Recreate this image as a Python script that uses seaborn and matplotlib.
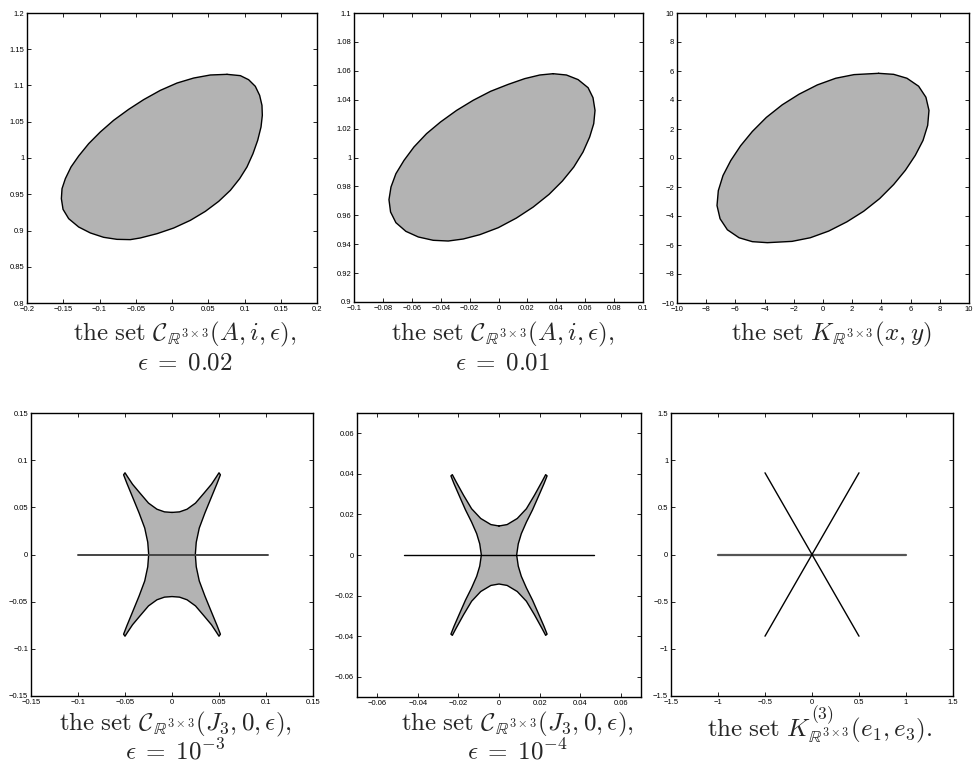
import numpy as np
import matplotlib.pyplot as plt
import seaborn as sns
from matplotlib.ticker import FuncFormatter

# boundary points
egg_x = [0.0759, 0.0943, 0.1057, 0.1149, 0.1209, 0.1241, 0.1246, 0.1228, 0.1182, 0.1117,
         0.1034, 0.0933, 0.0805, 0.0644, 0.0460, 0.0253, 0.0023, -0.0207, -0.0437, -0.0575,
         -0.0759, -0.0943, -0.1126, -0.1287, -0.1425, -0.1503, -0.1526, -0.1517, -0.1471, -0.1393,
         -0.1287, -0.1149, -0.0989, -0.0805, -0.0598, -0.0391, -0.0161, 0.0069, 0.0299, 0.0529,
         0.0759]
egg_y = [1.1154, 1.1136, 1.1080, 1.0989, 1.0864, 1.0726, 1.0589, 1.0428, 1.0244, 1.0060,
         0.9876, 0.9715, 0.9554, 0.9402, 0.9264, 0.9140, 0.9034, 0.8956, 0.8897, 0.8874,
         0.8878, 0.8906, 0.8966, 0.9048, 0.9163, 0.9292, 0.9439, 0.9577, 0.9715, 0.9876,
         1.0028, 1.0198, 1.0359, 1.0520, 1.0671, 1.0805, 1.0933, 1.1034, 1.1103, 1.1145,
         1.1154]

ell_x = [0.0378, 0.0470, 0.0551, 0.0620, 0.0654, 0.0668, 0.0659, 0.0631, 0.0585, 0.0521,
         0.0442, 0.0350, 0.0240, 0.0124, -0.0002, -0.0129, -0.0244, -0.0348, -0.0452, -0.0555,
         -0.0641, -0.0710, -0.0747, -0.0758, -0.0744, -0.0710, -0.0654, -0.0585, -0.0498, -0.0401,
         -0.0290, -0.0175, -0.0055, 0.0067, 0.0182, 0.0286, 0.0378]
ell_y = [1.0580, 1.0571, 1.0539, 1.0483, 1.0414, 1.0326, 1.0234, 1.0142, 1.0038, 0.9934,
         0.9837, 0.9745, 0.9657, 0.9581, 0.9514, 0.9466, 0.9436, 0.9422, 0.9427, 0.9450,
         0.9489, 0.9549, 0.9623, 0.9708, 0.9796, 0.9888, 0.9980, 1.0073, 1.0165, 1.0246,
         1.0326, 1.0396, 1.0458, 1.0506, 1.0546, 1.0571, 1.0580]

kxy_x = [3.81, 4.84, 5.75, 6.55, 7.05, 7.26, 7.17, 6.85, 6.32, 5.64, 4.84, 3.88, 2.79, 1.64,
         0.39, -0.87, -2.12, -3.81, -4.84, -5.75, -6.55, -7.05, -7.26, -7.17, -6.85, -6.32,
         -5.64, -4.84, -3.88, -2.79, -1.64, -0.39, 0.87, 2.12, 3.81]
kxy_y = [5.84, 5.77, 5.50, 4.95, 4.19, 3.28, 2.25, 1.21, 0.18, -0.85, -1.83, -2.80, -3.67, -4.40,
         -5.04, -5.50, -5.75, -5.84, -5.77, -5.50, -4.95, -4.19, -3.28, -2.25, -1.21, -0.18,
         0.85, 1.83, 2.80, 3.67, 4.40, 5.04, 5.50, 5.75, 5.84]

star3_x = [0, 0.008, 0.016, 0.025, 0.034, 0.042, 0.047, 0.0500, 0.0515, 0.048, 0.042, 0.035, 0.029, 0.0258, 0.0248,
           0.0258, 0.029, 0.035, 0.042, 0.048, 0.0515, 0.0500, 0.047, 0.042, 0.034, 0.025, 0.016, 0.008, 0,
           -0.008, -0.016, -0.025, -0.034, -0.042, -0.047, -0.0500, -0.0515, -0.048, -0.042, -0.035, -0.029, -0.0258, -0.0248,
           -0.0258, -0.029, -0.035, -0.042, -0.048, -0.0515, -0.0500, -0.047, -0.042, -0.034, -0.025, -0.016, -0.008, 0]
star3_y = [0.0446, 0.0452, 0.048, 0.0545, 0.065, 0.0745, 0.082, 0.0866, 0.0845, 0.0755, 0.061, 0.044, 0.028, 0.013, 0,
           -0.013, -0.028, -0.044, -0.061, -0.0755, -0.0845, -0.0866, -0.082, -0.0745, -0.065, -0.0545, -0.048, -0.0452, -0.0446,
           -0.0452, -0.048, -0.0545, -0.065, -0.0745, -0.082, -0.0866, -0.0845, -0.0755, -0.061, -0.044, -0.028, -0.013, 0,
           0.013, 0.028, 0.044, 0.061, 0.0755, 0.0845, 0.0866, 0.082, 0.0745, 0.065, 0.0545, 0.048, 0.0452, 0.0446]

star4_x = [0, 0.004, 0.009, 0.0135, 0.0175, 0.0212, 0.0230, 0.0237, 0.0222, 0.0195, 0.0165, 0.0135, 0.0110, 0.0095, 0.0087,
           0.0095, 0.0110, 0.0135, 0.0165, 0.0195, 0.0222, 0.0237, 0.0230, 0.0212, 0.0175, 0.0135, 0.009, 0.004, 0,
           -0.004, -0.009, -0.0135, -0.0175, -0.0212, -0.0230, -0.0237, -0.0222, -0.0195, -0.0165, -0.0135, -0.0110, -0.0095, -0.0087,
           -0.0095, -0.0110, -0.0135, -0.0165, -0.0195, -0.0222, -0.0237, -0.0230, -0.0212, -0.0175, -0.0135, -0.009, -0.004, 0]
star4_y = [0.0143, 0.015, 0.018, 0.0228, 0.0295, 0.0362, 0.0396, 0.0390, 0.0352, 0.029, 0.0222, 0.0162, 0.0105, 0.0055, 0,
           -0.0055, -0.0105, -0.0162, -0.0222, -0.029, -0.0352, -0.0390, -0.0396, -0.0362, -0.0295, -0.0228, -0.018, -0.015, -0.0143,
           -0.015, -0.018, -0.0228, -0.0295, -0.0362, -0.0396, -0.0390, -0.0352, -0.029, -0.0222, -0.0162, -0.0105, -0.0055, 0,
           0.0055, 0.0105, 0.0162, 0.0222, 0.029, 0.0352, 0.0390, 0.0396, 0.0362, 0.0295, 0.0228, 0.018, 0.015, 0.0143]

axis3_x = [-0.1, 0.102]
axis4_x = [-0.047, 0.047]
k3_segs = [([-1, 1], [0, 0]), ([-0.5, 0.5], [-0.866, 0.866]), ([-0.5, 0.5], [0.866, -0.866])]

lims = [(-0.2, 0.2, 0.8, 1.2), (-0.1, 0.1, 0.9, 1.1), (-10, 10, -10, 10),
        (-0.15, 0.15, -0.15, 0.15), (-0.07, 0.07, -0.07, 0.07), (-1.5, 1.5, -1.5, 1.5)]
xticks = [np.linspace(-0.2, 0.2, 9), np.linspace(-0.1, 0.1, 11), np.linspace(-10, 10, 11),
          np.linspace(-0.15, 0.15, 7), np.linspace(-0.06, 0.06, 7), np.linspace(-1.5, 1.5, 7)]
yticks = [np.linspace(0.8, 1.2, 9), np.linspace(0.9, 1.1, 11), np.linspace(-10, 10, 11),
          np.linspace(-0.15, 0.15, 7), np.linspace(-0.06, 0.06, 7), np.linspace(-1.5, 1.5, 7)]

R = r"\mathbb{R}^{3\times 3}"
captions = [
    [r"$\mathrm{the\ set}\ \mathcal{C}_{" + R + r"}(A, i, \epsilon),$", r"$\epsilon\;=\;0.02$"],
    [r"$\mathrm{the\ set}\ \mathcal{C}_{" + R + r"}(A, i, \epsilon),$", r"$\epsilon\;=\;0.01$"],
    [r"$\mathrm{the\ set}\ K_{" + R + r"}(x, y)$"],
    [r"$\mathrm{the\ set}\ \mathcal{C}_{" + R + r"}(J_3, 0, \epsilon),$", r"$\epsilon\;=\;10^{-3}$"],
    [r"$\mathrm{the\ set}\ \mathcal{C}_{" + R + r"}(J_3, 0, \epsilon),$", r"$\epsilon\;=\;10^{-4}$"],
    [r"$\mathrm{the\ set}\ K^{(3)}_{" + R + r"}(e_1, e_3).$"],
]

sns.set_style("ticks")
plt.rcParams['font.family'] = ['Liberation Sans', 'DejaVu Sans']
plt.rcParams['mathtext.fontset'] = 'cm'

W, H = 973, 773
fig = plt.figure(figsize=(W / 100, H / 100), dpi=100)

# axes boxes in pixels: left, top, right, bottom
boxes = [(27, 13, 317, 303), (354, 13, 643, 302), (677, 13, 969, 303),
         (31, 413, 313, 696), (357, 413, 641, 697), (671, 413, 953, 696)]
axs = [fig.add_axes([l / W, 1 - b / H, (r - l) / W, (b - t) / H]) for l, t, r, b in boxes]

fmt = FuncFormatter(lambda v, p: f"{round(v, 4):g}".replace('-', '\u2212'))

shapes = [(egg_x, egg_y), (ell_x, ell_y), (kxy_x, kxy_y), (star3_x, star3_y), (star4_x, star4_y)]
for i, (sx, sy) in enumerate(shapes):
    ax = axs[i]
    ax.fill(sx, sy, color='#b3b3b3', lw=0)
    sns.lineplot(x=sx, y=sy, sort=False, estimator=None, color='black', lw=1.0, ax=ax)

sns.lineplot(x=axis3_x, y=[0, 0], sort=False, estimator=None, color='#444444', lw=1.4, ax=axs[3])
sns.lineplot(x=axis4_x, y=[0, 0], sort=False, estimator=None, color='black', lw=1.0, ax=axs[4])
for j, (sx, sy) in enumerate(k3_segs):
    if j == 0:
        sns.lineplot(x=sx, y=sy, sort=False, estimator=None, color='#555555', lw=1.6, ax=axs[5])
    else:
        sns.lineplot(x=sx, y=sy, sort=False, estimator=None, color='black', lw=1.0, ax=axs[5])

for i, ax in enumerate(axs):
    x0, x1, y0, y1 = lims[i]
    ax.set_xlim(x0, x1)
    ax.set_ylim(y0, y1)
    ax.set_xticks(xticks[i])
    ax.set_yticks(yticks[i])
    ax.xaxis.set_major_formatter(fmt)
    ax.yaxis.set_major_formatter(fmt)
    ax.tick_params(direction='in', top=True, right=True, length=3, width=0.6,
                   labelsize=5.5, pad=2, colors='black')
    for s in ax.spines.values():
        s.set_visible(True)
        s.set_linewidth(1.0)
        s.set_color('black')

# caption centers and baselines in pixels
cap_pos = [(185, 340, 370), (503, 340, 370), (831, 340, None),
           (175, 730, 759), (517, 730, 759), (820, 737, None)]
for (cx, b1, b2), lines in zip(cap_pos, captions):
    fig.text(cx / W, 1 - b1 / H, lines[0], ha='center', va='baseline', fontsize=18)
    if b2 is not None:
        fig.text(cx / W, 1 - b2 / H, lines[1], ha='center', va='baseline', fontsize=18)

fig.savefig('out.png', dpi=100)
